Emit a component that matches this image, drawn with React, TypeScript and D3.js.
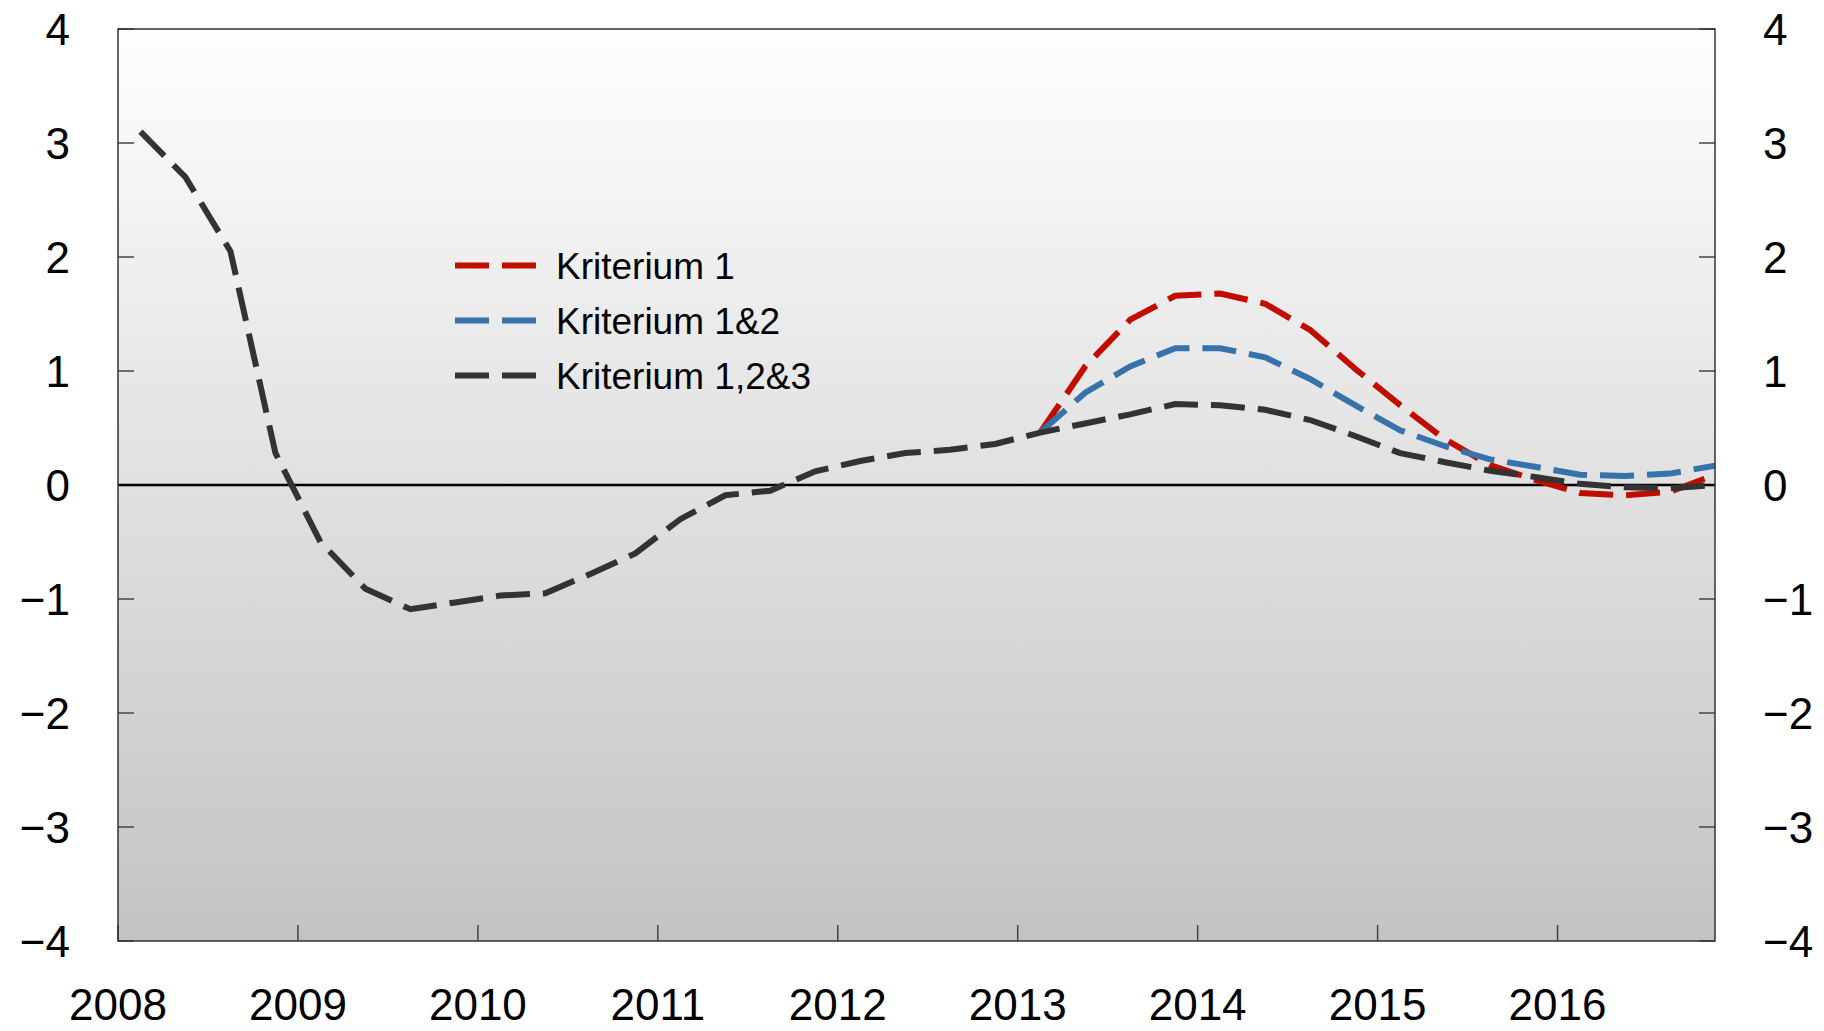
import React, { useEffect } from "react";
import * as d3 from "d3";

const START = 2008.125;
const STEP = 0.25;

const black = [
  3.1, 2.7, 2.05, 0.28, -0.5, -0.91, -1.09, -1.03, -0.97, -0.95, -0.78, -0.6,
  -0.3, -0.09, -0.05, 0.12, 0.21, 0.28, 0.31, 0.36, 0.46, 0.54, 0.62, 0.71,
  0.7, 0.66, 0.57, 0.43, 0.28, 0.2, 0.125, 0.07, 0.01, -0.02, -0.03, 0.0,
];
const SPLIT = 20;
const red = [
  0.46, 1.04, 1.45, 1.66, 1.68, 1.59, 1.36, 1.02, 0.7, 0.4, 0.175, 0.045,
  -0.07, -0.09, -0.06, 0.09,
];
const blue = [
  0.46, 0.81, 1.04, 1.2, 1.2, 1.12, 0.93, 0.7, 0.48, 0.34, 0.225, 0.16, 0.09,
  0.08, 0.1, 0.17,
];

const yearTicks = [2008, 2009, 2010, 2011, 2012, 2013, 2014, 2015, 2016];
const yTicks = [-4, -3, -2, -1, 0, 1, 2, 3, 4];

const seriesNames = ["Kriterium 1", "Kriterium 1&2", "Kriterium 1,2&3"];
const seriesColors = ["#c00d00", "#3673aa", "#333333"];

const W = 1824;
const H = 1031;
const L = 118;
const R = 1715;
const T = 29;
const B = 941;
const FONT = "'Liberation Sans', Arial, Helvetica, sans-serif";

export default function App() {
  useEffect(() => {
    document.body.style.margin = "0";
  }, []);

  const x = d3.scaleLinear().domain([2008, 2016.875]).range([L, R]);
  const y = d3.scaleLinear().domain([-4, 4]).range([B, T]);

  const line = d3
    .line<{ t: number; v: number }>()
    .x((d) => x(d.t))
    .y((d) => y(d.v));

  const toPts = (arr: number[], offset: number) =>
    arr.map((v, i) => ({ t: START + STEP * (i + offset), v }));

  const series = [toPts(red, SPLIT), toPts(blue, SPLIT), toPts(black, 0)];

  const dash = "34 13";
  const sw = 6;

  return (
    <svg
      width={W}
      height={H}
      style={{ display: "block", position: "absolute", left: 0, top: 0 }}
      fontFamily={FONT}
    >
      <defs>
        <linearGradient id="bg" x1="0" y1="0" x2="0" y2="1">
          <stop offset="0" stopColor="#fefefe" />
          <stop offset="1" stopColor="#c3c3c3" />
        </linearGradient>
        <clipPath id="clip">
          <rect x={L} y={T} width={R - L} height={B - T} />
        </clipPath>
      </defs>
      <rect x={0} y={0} width={W} height={H} fill="#ffffff" />
      <rect x={L} y={T} width={R - L} height={B - T} fill="url(#bg)" />

      {/* ticks */}
      {yTicks.map((v) => (
        <g key={"yt" + v}>
          <line x1={L} x2={L + 16} y1={y(v)} y2={y(v)} stroke="#444" strokeWidth={1.5} />
          <line x1={R - 16} x2={R} y1={y(v)} y2={y(v)} stroke="#444" strokeWidth={1.5} />
          <text
            x={L - 48}
            y={y(v)}
            dy="0.36em"
            textAnchor="end"
            fontSize={44}
            fill="#000"
          >
            {v < 0 ? "\u2212" + Math.abs(v) : String(v)}
          </text>
          <text
            x={R + 48}
            y={y(v)}
            dy="0.36em"
            textAnchor="start"
            fontSize={44}
            fill="#000"
          >
            {v < 0 ? "\u2212" + Math.abs(v) : String(v)}
          </text>
        </g>
      ))}
      {yearTicks.map((yr) => (
        <g key={"xt" + yr}>
          <line x1={x(yr)} x2={x(yr)} y1={B} y2={B - 16} stroke="#444" strokeWidth={1.5} />
          <text x={x(yr)} y={1020} textAnchor="middle" fontSize={44} fill="#000">
            {yr}
          </text>
        </g>
      ))}

      {/* zero line */}
      <line x1={L} x2={R} y1={y(0)} y2={y(0)} stroke="#000" strokeWidth={2.5} />

      {/* series */}
      <g clipPath="url(#clip)">
        {series.map((pts, k) => (
          <path
            key={"s" + k}
            d={line(pts) || ""}
            fill="none"
            stroke={seriesColors[k]}
            strokeWidth={sw}
            strokeDasharray={dash}
            strokeLinejoin="miter"
          />
        ))}
      </g>

      {/* frame */}
      <rect
        x={L}
        y={T}
        width={R - L}
        height={B - T}
        fill="none"
        stroke="#333"
        strokeWidth={1.5}
      />

      {/* legend */}
      {seriesNames.map((name, k) => {
        const ly = 265.5 + 55 * k;
        return (
          <g key={"lg" + k}>
            <line
              x1={455}
              x2={536}
              y1={ly}
              y2={ly}
              stroke={seriesColors[k]}
              strokeWidth={sw}
              strokeDasharray={dash}
            />
            <text x={556} y={ly} dy="0.37em" fontSize={37} fill="#000">
              {name}
            </text>
          </g>
        );
      })}
    </svg>
  );
}
